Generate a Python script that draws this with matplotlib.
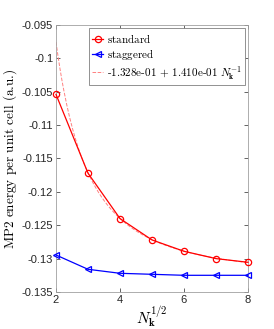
import matplotlib.pyplot as plt
import numpy as np

plt.switch_backend("Agg")

# sqrt(Nk) values and MP2 energies
nk_sqrt = [2, 3, 4, 5, 6, 7, 8]
standard = [-0.1054, -0.1172, -0.1240, -0.1272, -0.1289, -0.1300, -0.13055]
staggered = [-0.12946, -0.1316, -0.1322, -0.13235, -0.1325, -0.1325, -0.1325]

# fit: E = a + b * Nk^-1
fit_a = -1.328e-01
fit_b = 1.410e-01

plt.rcParams["mathtext.fontset"] = "cm"
plt.rcParams["font.family"] = ["Liberation Sans", "DejaVu Sans"]

fig = plt.figure(figsize=(2.74, 3.29), dpi=100)
ax = fig.add_axes([0.2044, 0.1125, 0.7006, 0.8115])

grid = np.linspace(2, 8, 200)
ax.plot(nk_sqrt, standard, "-o", color="red", lw=0.9, ms=4.5,
        mfc="none", mew=0.9, clip_on=False, zorder=3,
        label=r"$\text{standard}$")
ax.plot(nk_sqrt, staggered, "-<", color="blue", lw=0.9, ms=5,
        mfc="none", mew=0.9, clip_on=False, zorder=3,
        label=r"$\text{staggered}$")
ax.plot(grid, fit_a + fit_b / grid**2, "--", color="#ff8080", lw=0.7,
        label=r"$\text{-1.328e-01 + 1.410e-01}\ N_{\mathbf{k}}^{-1}$")

ax.set_xlim(2, 8)
ax.set_ylim(-0.135, -0.095)
ax.set_xticks([2, 4, 6, 8])
ax.set_yticks(np.arange(-0.135, -0.0949, 0.005))
ax.set_yticklabels(["-0.135", "-0.13", "-0.125", "-0.12", "-0.115",
                    "-0.11", "-0.105", "-0.1", "-0.095"])

ax.tick_params(direction="in", top=True, right=True, length=3, width=0.5,
               labelsize=8, colors="#262626", pad=2)
for spine in ax.spines.values():
    spine.set_color("#a0a0a0")
    spine.set_linewidth(0.6)

ax.set_xlabel(r"$N_{\mathbf{k}}^{1/2}$", fontsize=11, labelpad=0)
ax.set_ylabel(r"$\text{MP2 energy per unit cell (a.u.)}$", fontsize=9.5, labelpad=2)

leg = ax.legend(loc="upper right", fontsize=8, fancybox=False, framealpha=1,
                handlelength=1.0, handletextpad=0.3, borderpad=0.3,
                labelspacing=0.2, borderaxespad=0.3)
leg.get_frame().set_edgecolor("#808080")
leg.get_frame().set_linewidth(0.6)

fig.savefig("out.png", dpi=100)
plt.close(fig)
